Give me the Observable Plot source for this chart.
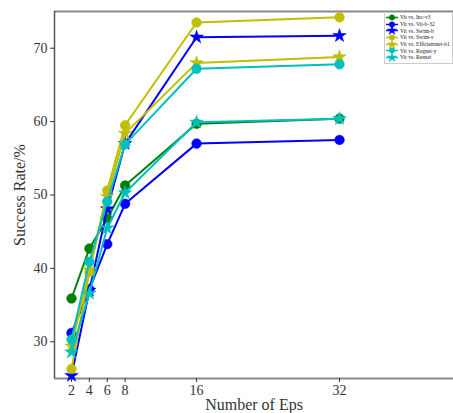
<!DOCTYPE html>
<html>
<head>
<meta charset="utf-8">
<script src="https://cdn.jsdelivr.net/npm/d3@7"></script>
<script src="https://cdn.jsdelivr.net/npm/@observablehq/plot@0.6"></script>
<style>
  html, body { margin: 0; padding: 0; background: #fff; }
  #wrap { position: relative; width: 453px; height: 413px; overflow: hidden; }
  #wrap svg, #wrap svg text { font-family: "Liberation Serif", serif !important; }
  #legend { position: absolute; left: 384px; top: 12px; width: 67px; padding: 1px 0 2px 0;
    border: 1px solid #ccc; background: rgba(255,255,255,0.9);
    font-family: "Liberation Serif", serif;
    font-size: 5.6px; color: #222; white-space: nowrap; }
  #legend .row { display: flex; align-items: center; height: 6.7px; }
  #legend svg { flex: none; margin-right: 1px; }
</style>
</head>
<body>
<div id="wrap"><div id="legend"></div></div>
<script>
const eps = [2, 4, 6, 8, 16, 32];
const xTicks = [2, 4, 6, 8, 16, 32];
const yTicks = [30, 40, 50, 60, 70];

const seriesNames = ["Vit vs. Inc-v3", "Vit vs. Vit-b-32", "Vit vs. Swim-b", "Vit vs. Swim-s",
  "Vit vs. Efficientnet-b1", "Vit vs. Regnet-y", "Vit vs. Resnet"];
const seriesColors = ["#008000", "#0000ff", "#0000ff", "#bfbf00", "#bfbf00", "#00bfbf", "#00bfbf"];
const seriesSymbols = ["circle", "circle", "star", "circle", "star", "circle", "star"];

const incv3   = [35.9, 42.7, 46.8, 51.3, 59.7, 60.4];
const vitb32  = [31.2, 37.1, 43.3, 48.8, 57.0, 57.5];
const swimb   = [25.4, 37.0, 48.1, 57.0, 71.5, 71.7];
const swims   = [26.3, 39.5, 50.6, 59.5, 73.5, 74.2];
const effb1   = [29.4, 39.8, 49.8, 58.4, 68.0, 68.8];
const regnety = [30.3, 40.9, 49.1, 56.9, 67.2, 67.8];
const resnet  = [28.6, 36.6, 45.5, 50.3, 59.9, 60.4];

const allValues = [incv3, vitb32, swimb, swims, effb1, regnety, resnet];
const serif = "Liberation Serif";

const marks = [];
allValues.forEach((vals, i) => {
  const data = eps.map((e, j) => ({eps: e, v: vals[j]}));
  marks.push(Plot.line(data, {x: "eps", y: "v", stroke: seriesColors[i], strokeWidth: 2}));
  marks.push(Plot.dot(data, {x: "eps", y: "v", fill: seriesColors[i], stroke: seriesColors[i],
    symbol: seriesSymbols[i], r: seriesSymbols[i] === "star" ? 4.2 : 4.8, strokeWidth: 0.6}));
});

const chart = Plot.plot({
  width: 453,
  height: 413,
  marginLeft: 54,
  marginRight: 0,
  marginTop: 11,
  marginBottom: 35,
  style: "font-family: 'Liberation Serif', serif; font-size: 14px; color: #333; background: #fff;",
  x: {domain: [0.097, 44.76]},
  y: {domain: [25, 75]},
  marks: [
    Plot.ruleY([75], {stroke: "#888", strokeWidth: 2}),
    Plot.ruleY([25], {stroke: "#888", strokeWidth: 2}),
    Plot.ruleX([0.097], {stroke: "#555", strokeWidth: 1.5}),
    Plot.axisX({ticks: xTicks, tickSize: 4, tickPadding: 3, fontSize: 14, fontFamily: serif, label: null}),
    Plot.axisX({ticks: [], tickSize: 0, label: "Number of Eps",
      labelAnchor: "center", labelArrow: "none", labelOffset: 31, fontSize: 16, fontFamily: serif}),
    Plot.axisY({ticks: yTicks, tickSize: 4, tickPadding: 3, fontSize: 14, fontFamily: serif, label: null}),
    Plot.axisY({ticks: [], tickSize: 0, label: "Success Rate/%",
      labelAnchor: "center", labelArrow: "none", labelOffset: 41, fontSize: 16, fontFamily: serif}),
    ...marks
  ]
});
document.getElementById("wrap").prepend(chart);

// legend
const legend = document.getElementById("legend");
seriesNames.forEach((name, i) => {
  const row = document.createElement("div");
  row.className = "row";
  const c = seriesColors[i];
  const marker = seriesSymbols[i] === "star"
    ? d3.symbol(d3.symbolStar, 26)()
    : d3.symbol(d3.symbolCircle, 24)();
  row.innerHTML = `<svg width="14" height="7" viewBox="-7 -3.5 14 7" overflow="visible">
    <line x1="-6" x2="6" y1="0" y2="0" stroke="${c}" stroke-width="1.5"/>
    <path d="${marker}" fill="${c}" stroke="${c}" stroke-width="0.5"/></svg><span>${name}</span>`;
  legend.appendChild(row);
});
</script>
</body>
</html>
